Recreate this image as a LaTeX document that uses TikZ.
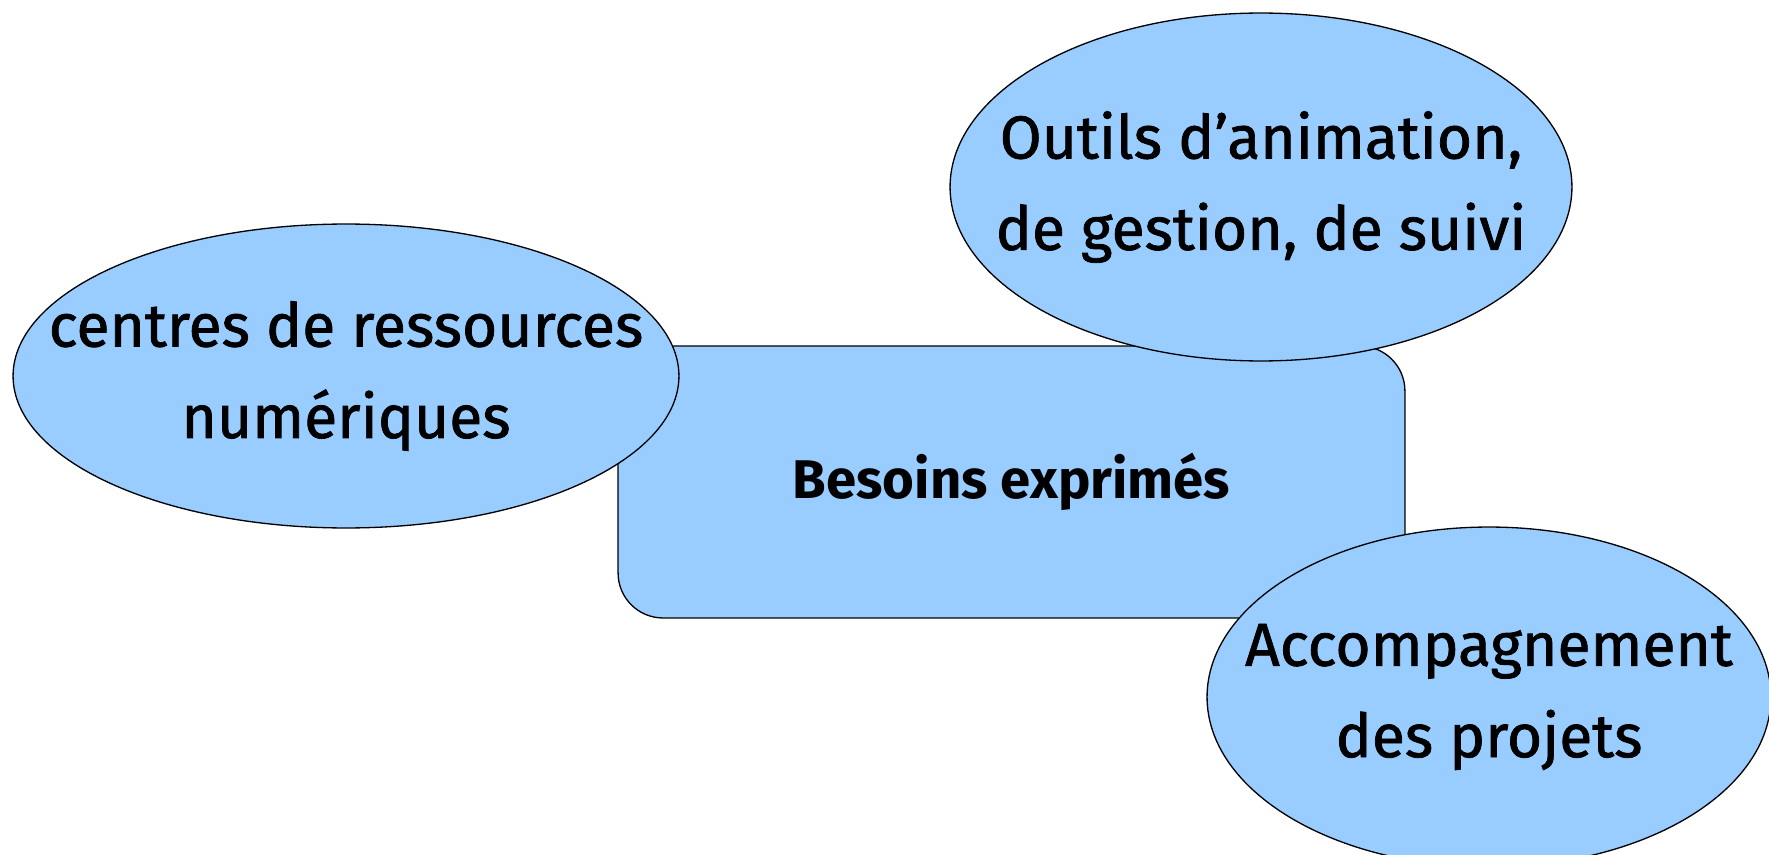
\documentclass[tikz,border=0pt]{standalone}
\usepackage{fontspec}
\setmainfont{Fira Sans}
\newfontfamily\epais{Fira Sans}[FakeBold=1.2]
\usetikzlibrary{shapes.geometric}
\definecolor{bleu}{HTML}{99CCFF}
\begin{document}
\begin{tikzpicture}[x=0.02cm, y=-0.02cm,
    texte/.style={align=center, inner sep=0pt, font=\epais\fontsize{34.5}{52}\selectfont},
    bulle/.style={ellipse, draw, fill=bleu, line width=0.75pt, inner sep=0pt,
      label={[texte]center:#1}},
    boite/.style={rectangle, rounded corners=0.9cm, draw, fill=bleu, line width=0.75pt,
      minimum width=15.74cm, minimum height=5.44cm, font=\fontsize{31}{34}\selectfont\bfseries}]
    \useasboundingbox (0,0) rectangle (1769,855);
    \node[boite] at (1011.5, 482) (besoins) {Besoins exprimés};

    \node[bulle={centres de ressources\\numériques}, minimum width=13.32cm, minimum height=6.08cm] at (346, 376) (centres) {};
    \node[bulle={Outils d’animation,\\de gestion, de suivi}, minimum width=12.44cm, minimum height=6.96cm] at (1261, 187) (outils) {};
    \node[bulle={Accompagnement\\des projets}, minimum width=11.28cm, minimum height=6.8cm] at (1489, 697) (accomp) {};
  \end{tikzpicture}
\end{document}
